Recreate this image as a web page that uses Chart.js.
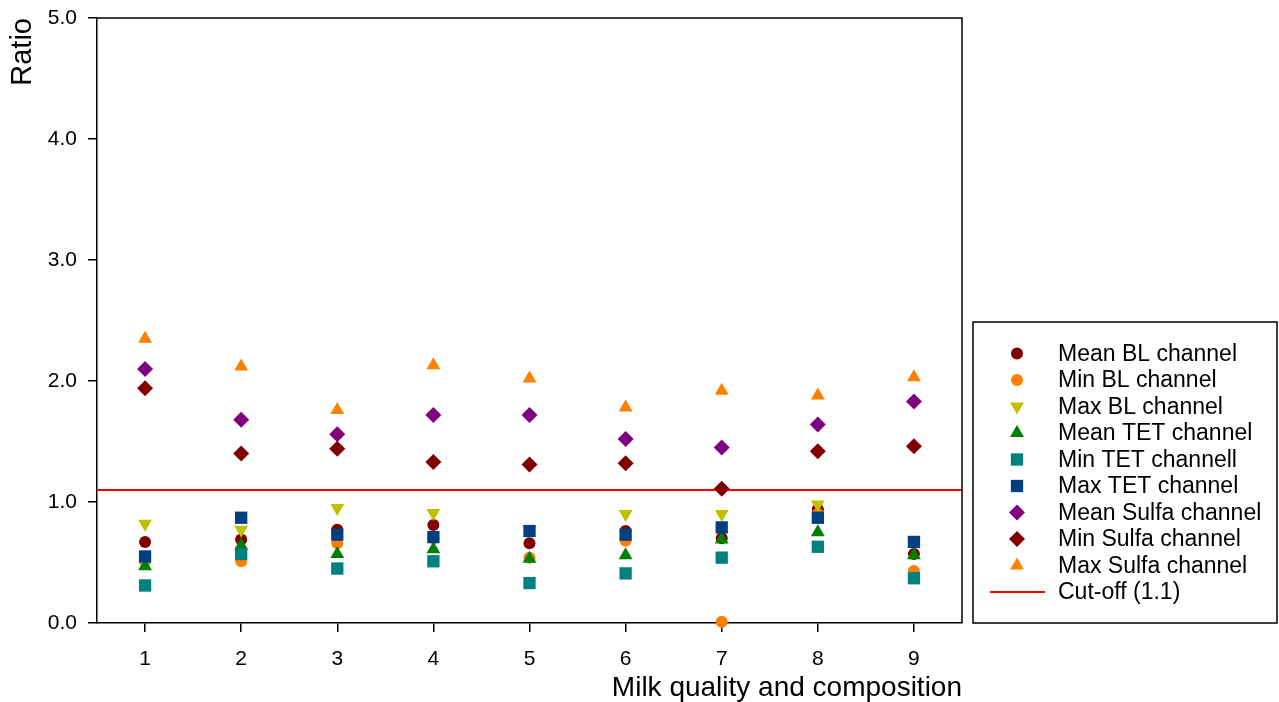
<!DOCTYPE html>
<html>
<head>
<meta charset="utf-8">
<script src="https://cdn.jsdelivr.net/npm/chart.js@4.4.1/dist/chart.umd.min.js"></script>
<style>
  html, body { margin: 0; padding: 0; background: #ffffff; }
  #wrap { width: 1279px; height: 702px; }
</style>
</head>
<body>
<div id="wrap"><canvas id="c" width="1279" height="702"></canvas></div>
<script>
// ---- data ----
const categories = [1, 2, 3, 4, 5, 6, 7, 8, 9];
const meanBL    = [0.67, 0.69, 0.77, 0.81, 0.66, 0.76, 0.70, 0.94, 0.57];
const minBL     = [0.51, 0.51, 0.66, 0.70, 0.54, 0.68, 0.01, 0.90, 0.43];
const maxBL     = [0.82, 0.77, 0.95, 0.91, 0.77, 0.90, 0.90, 0.98, 0.68];
const meanTET   = [0.47, 0.64, 0.57, 0.61, 0.53, 0.56, 0.69, 0.75, 0.56];
const minTET    = [0.31, 0.57, 0.45, 0.51, 0.33, 0.41, 0.54, 0.63, 0.37];
const maxTET    = [0.55, 0.87, 0.73, 0.71, 0.76, 0.73, 0.79, 0.87, 0.67];
const meanSulfa = [2.10, 1.68, 1.56, 1.72, 1.72, 1.52, 1.45, 1.64, 1.83];
const minSulfa  = [1.94, 1.40, 1.44, 1.33, 1.31, 1.32, 1.11, 1.42, 1.46];
const maxSulfa  = [2.35, 2.12, 1.76, 2.13, 2.02, 1.78, 1.92, 1.88, 2.03];
const cutoffValue = 1.1;
const yTicks = [0, 1, 2, 3, 4, 5];
const xMin = 0.5, xMax = 9.5;

const seriesNames = ['Mean BL channel', 'Min BL channel', 'Max BL channel',
  'Mean TET channel', 'Min TET channell', 'Max TET channel',
  'Mean Sulfa channel', 'Min Sulfa channel', 'Max Sulfa channel'];
const cutoffName = 'Cut-off (1.1)';

// ---- styles ----
const FONT = "'Liberation Sans', Arial, Helvetica, sans-serif";
const seriesStyles = [
  { color: '#800000', shape: 'circle',   rot: 0,   r: 6 },
  { color: '#FF8000', shape: 'circle',   rot: 0,   r: 6 },
  { color: '#C0C000', shape: 'triangle', rot: 180, r: 8 },
  { color: '#008000', shape: 'triangle', rot: 0,   r: 8 },
  { color: '#008080', shape: 'rect',     rot: 0,   r: 8.7 },
  { color: '#004080', shape: 'rect',     rot: 0,   r: 8.7 },
  { color: '#800080', shape: 'rectRot',  rot: 0,   r: 8 },
  { color: '#800000', shape: 'rectRot',  rot: 0,   r: 8 },
  { color: '#FF8000', shape: 'triangle', rot: 0,   r: 8 }
];
const seriesValues = [meanBL, minBL, maxBL, meanTET, minTET, maxTET, meanSulfa, minSulfa, maxSulfa];

const datasets = seriesValues.map((vals, i) => ({
  label: seriesNames[i],
  data: categories.map((c, j) => ({ x: c, y: vals[j] })),
  backgroundColor: seriesStyles[i].color,
  borderColor: seriesStyles[i].color,
  borderWidth: 0,
  pointStyle: seriesStyles[i].shape,
  rotation: seriesStyles[i].rot,
  pointRadius: seriesStyles[i].r,
  pointHoverRadius: seriesStyles[i].r,
  showLine: false,
  clip: false,
  order: seriesValues.length - i   // later series drawn on top
}));
datasets.push({
  label: cutoffName,
  data: [{ x: xMin, y: cutoffValue }, { x: xMax, y: cutoffValue }],
  showLine: true,
  borderColor: '#FF0000',
  backgroundColor: '#FF0000',
  borderWidth: 2,
  pointRadius: 0,
  order: 100
});

// ---- legend / frame plugin ----
function drawShape(ctx, shape, rotDeg, r, x, y) {
  const rad = rotDeg * Math.PI / 180;
  ctx.beginPath();
  if (shape === 'circle') {
    ctx.arc(x, y, r, 0, Math.PI * 2);
  } else if (shape === 'rect') {
    const s = Math.SQRT1_2 * r;
    ctx.rect(x - s, y - s, 2 * s, 2 * s);
  } else if (shape === 'rectRot') {
    ctx.moveTo(x, y - r); ctx.lineTo(x + r, y); ctx.lineTo(x, y + r); ctx.lineTo(x - r, y);
    ctx.closePath();
  } else if (shape === 'triangle') {
    let a = rad;
    ctx.moveTo(x + Math.sin(a) * r, y - Math.cos(a) * r);
    a += 2 * Math.PI / 3;
    ctx.lineTo(x + Math.sin(a) * r, y - Math.cos(a) * r);
    a += 2 * Math.PI / 3;
    ctx.lineTo(x + Math.sin(a) * r, y - Math.cos(a) * r);
    ctx.closePath();
  }
  ctx.fill();
}

const framePlugin = {
  id: 'frameLegend',
  afterDraw(chart) {
    const ctx = chart.ctx;
    const a = chart.chartArea;
    ctx.save();
    // plot frame (top and right)
    ctx.strokeStyle = '#000';
    ctx.lineWidth = 1.5;
    ctx.beginPath();
    ctx.moveTo(a.left, a.top);
    ctx.lineTo(a.right, a.top);
    ctx.lineTo(a.right, a.bottom);
    ctx.stroke();

    // legend box
    const bx = 973, by = 322, bw = 304, bh = 301;
    ctx.lineWidth = 1.5;
    ctx.strokeRect(bx, by, bw, bh);
    const symX = 1017, textX = 1058, y0 = 353.5, pitch = 26.5;
    ctx.font = '23px ' + FONT;
    ctx.textBaseline = 'middle';
    ctx.textAlign = 'left';
    seriesNames.forEach((name, i) => {
      const y = y0 + i * pitch;
      const st = seriesStyles[i];
      ctx.fillStyle = st.color;
      drawShape(ctx, st.shape, st.rot, st.r, symX, y);
      ctx.fillStyle = '#000';
      ctx.fillText(name, textX, y + 1);
    });
    const yc = y0 + seriesNames.length * pitch;
    ctx.strokeStyle = '#FF0000';
    ctx.lineWidth = 2;
    ctx.beginPath();
    ctx.moveTo(990, yc);
    ctx.lineTo(1045, yc);
    ctx.stroke();
    ctx.fillStyle = '#000';
    ctx.fillText(cutoffName, textX, yc + 1);
    ctx.restore();
  }
};

new Chart(document.getElementById('c'), {
  type: 'scatter',
  data: { datasets },
  options: {
    responsive: false,
    animation: false,
    events: [],
    layout: { padding: { top: 18, right: 317, left: 0, bottom: 0 } },
    plugins: { legend: { display: false }, tooltip: { enabled: false } },
    scales: {
      x: {
        type: 'linear',
        min: xMin,
        max: xMax,
        afterBuildTicks: (s) => { s.ticks = categories.map(v => ({ value: v })); },
        afterFit: (s) => { s.height = 79; s.paddingLeft = 0; s.paddingRight = 0; },
        ticks: {
          color: '#000',
          font: { family: FONT, size: 21 },
          padding: 15,
          maxRotation: 0,
          callback: (v) => String(v)
        },
        grid: { drawOnChartArea: false, drawTicks: true, tickLength: 9, color: '#000', lineWidth: 1.5 },
        border: { display: true, color: '#000', width: 1.5 },
        title: {
          display: true,
          text: 'Milk quality and composition',
          align: 'end',
          color: '#000',
          font: { family: FONT, size: 28, lineHeight: 1 },
          padding: { top: 0, bottom: 0 }
        }
      },
      y: {
        type: 'linear',
        min: 0,
        max: 5,
        afterBuildTicks: (s) => { s.ticks = yTicks.map(v => ({ value: v })); },
        afterFit: (s) => { s.width = 97; s.paddingTop = 0; s.paddingBottom = 0; },
        ticks: {
          color: '#000',
          font: { family: FONT, size: 21 },
          padding: 11,
          callback: (v) => Number(v).toFixed(1)
        },
        grid: { drawOnChartArea: false, drawTicks: true, tickLength: 9, color: '#000', lineWidth: 1.5 },
        border: { display: true, color: '#000', width: 1.5 },
        title: {
          display: true,
          text: 'Ratio',
          align: 'end',
          color: '#000',
          font: { family: FONT, size: 29, lineHeight: 1 },
          padding: { top: 8, bottom: 0 }
        }
      }
    }
  },
  plugins: [framePlugin]
});
</script>
</body>
</html>
